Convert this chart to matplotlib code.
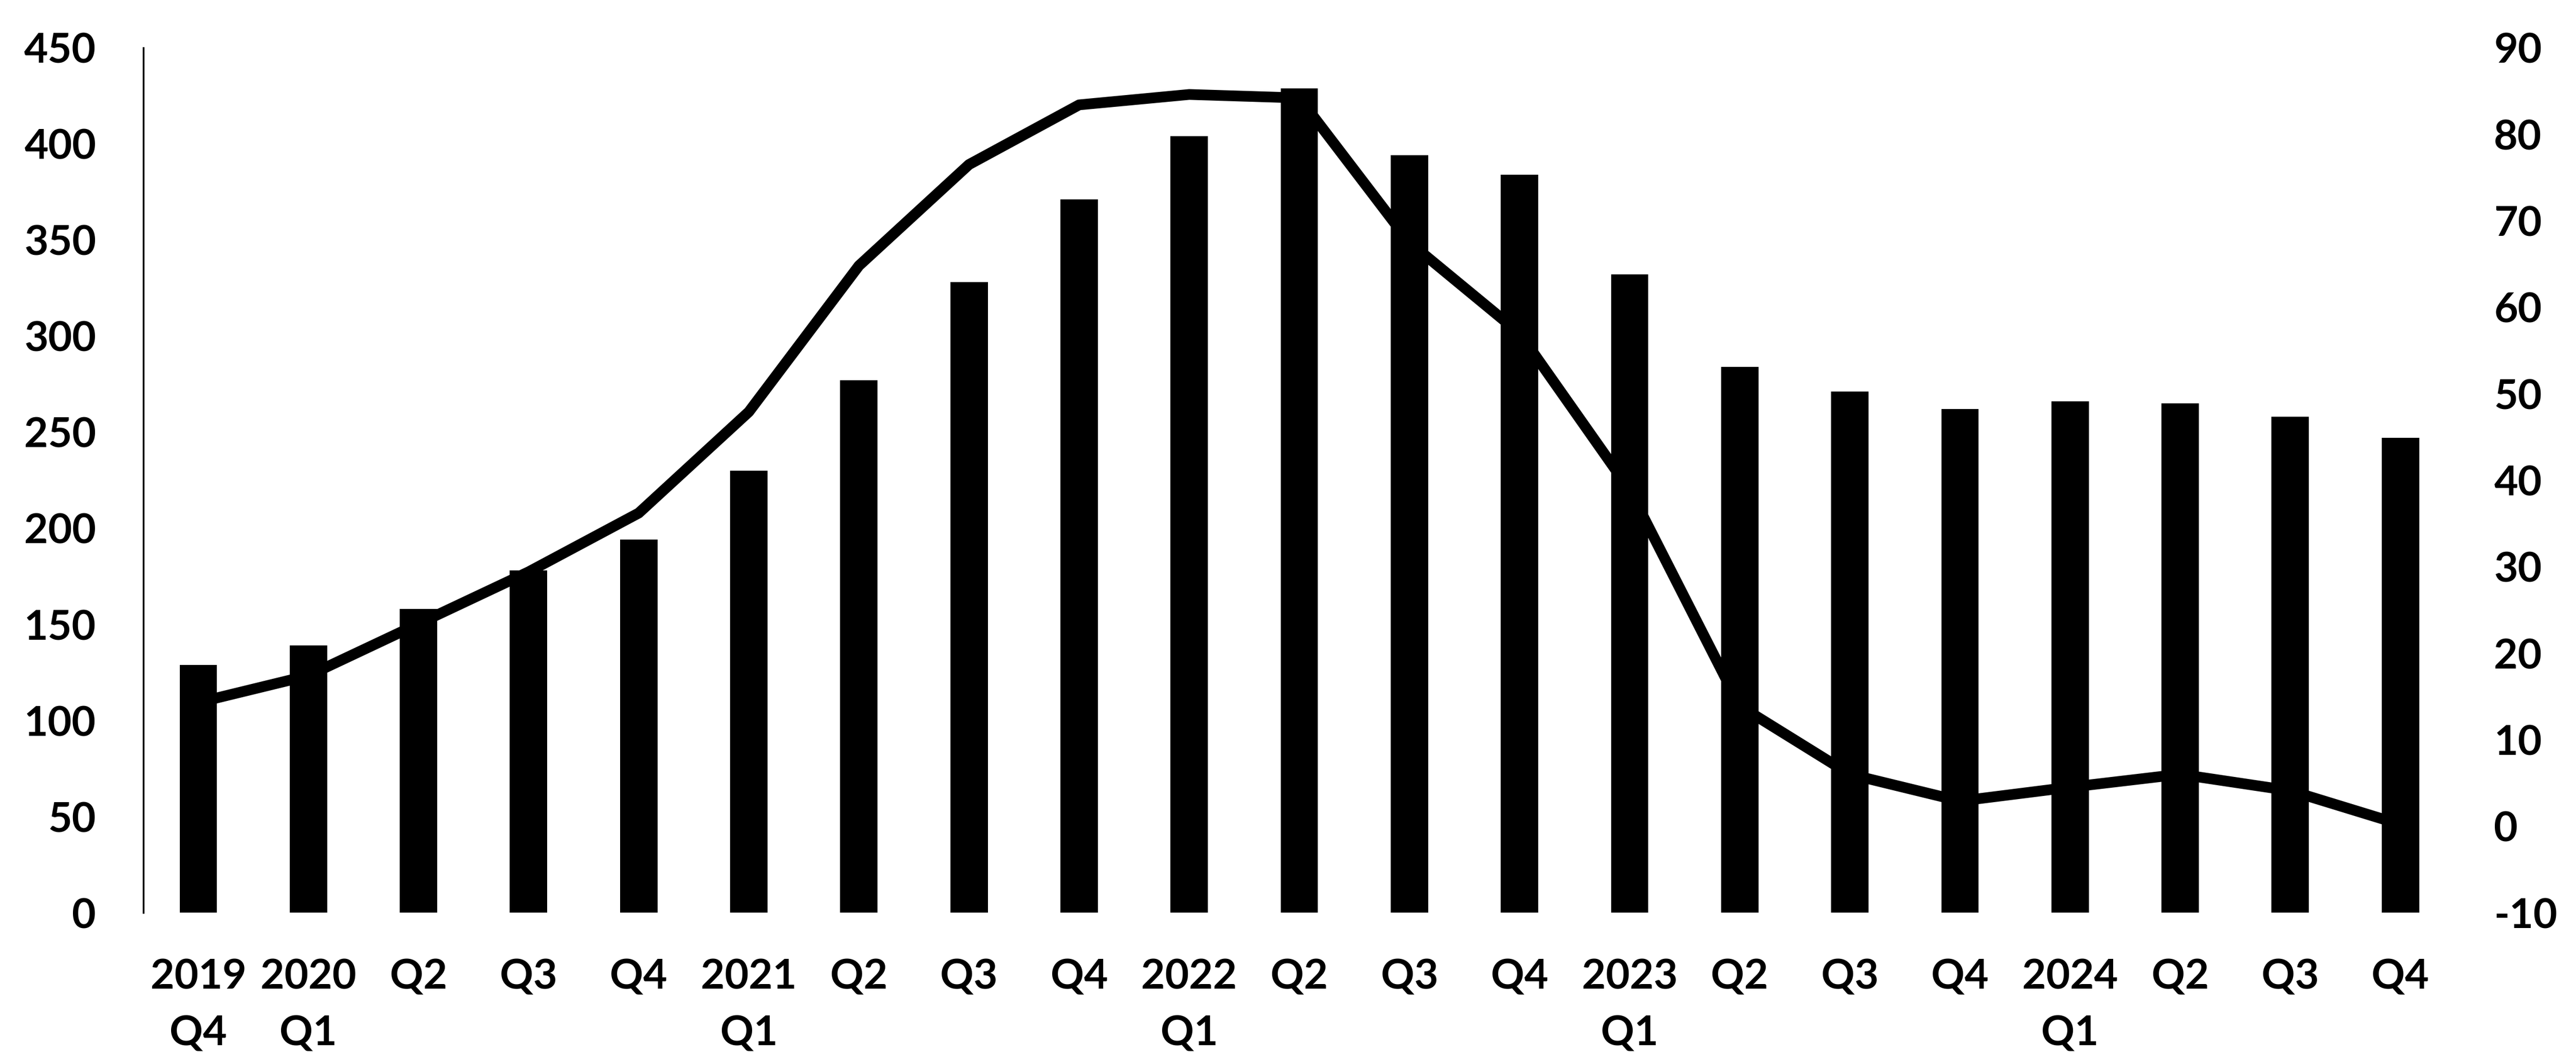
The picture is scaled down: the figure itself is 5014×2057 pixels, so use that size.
# Quarterly bars (left axis) with a growth line (right axis), 2019 Q4 - 2024 Q4
import numpy as np
import matplotlib
matplotlib.use("Agg")
from matplotlib import pyplot as plt

plt.rcParams["font.family"] = ["Lato", "DejaVu Sans"]
plt.rcParams["font.weight"] = "bold"

quarters = ["2019\nQ4", "2020\nQ1", "Q2", "Q3", "Q4", "2021\nQ1", "Q2", "Q3", "Q4",
            "2022\nQ1", "Q2", "Q3", "Q4", "2023\nQ1", "Q2", "Q3", "Q4",
            "2024\nQ1", "Q2", "Q3", "Q4"]
bar_values = [129, 139, 158, 178, 194, 230, 277, 328, 371, 404, 429, 394, 384, 332,
              284, 271, 262, 266, 265, 258, 247]
line_values = [14.3, 17.4, 23.4, 29.4, 36.2, 47.9, 64.8, 76.5, 83.4, 84.6, 84.2, 67.5,
               57.0, 38.9, 13.9, 6.0, 2.9, 4.5, 6.0, 4.1, 0.2]
left_ticks = [0, 50, 100, 150, 200, 250, 300, 350, 400, 450]
right_ticks = [-10, 0, 10, 20, 30, 40, 50, 60, 70, 80, 90]

fig = plt.figure(figsize=(50.14, 20.57), dpi=100)
ax = fig.add_axes([0.0556, 0.1366, 0.8976, 0.8182])
x = np.arange(len(quarters))

ax.bar(x, bar_values, width=0.34, color="black", zorder=2)
ax.set_xlim(-0.5, len(quarters) - 0.5)
ax.set_ylim(0, 450)
ax.set_yticks(left_ticks)
ax.set_xticks(x)
ax.set_xticklabels(quarters, linespacing=1.6)
ax.tick_params(axis="both", length=0, labelsize=58, colors="black")
ax.tick_params(axis="y", pad=66)
ax.tick_params(axis="x", pad=64)
for s in ["top", "right", "bottom"]:
    ax.spines[s].set_visible(False)
ax.spines["left"].set_linewidth(2.5)
ax.spines["left"].set_color("black")

ax2 = ax.twinx()
ax2.plot(x, line_values, color="black", linewidth=15, solid_joinstyle="round", zorder=3)
ax2.set_ylim(-10, 90)
ax2.set_yticks(right_ticks)
ax2.set_yticklabels([str(t) for t in right_ticks])
ax2.tick_params(axis="y", length=0, labelsize=58, pad=54)
for s in ax2.spines.values():
    s.set_visible(False)

plt.savefig("out.png", dpi=100, facecolor="white")
